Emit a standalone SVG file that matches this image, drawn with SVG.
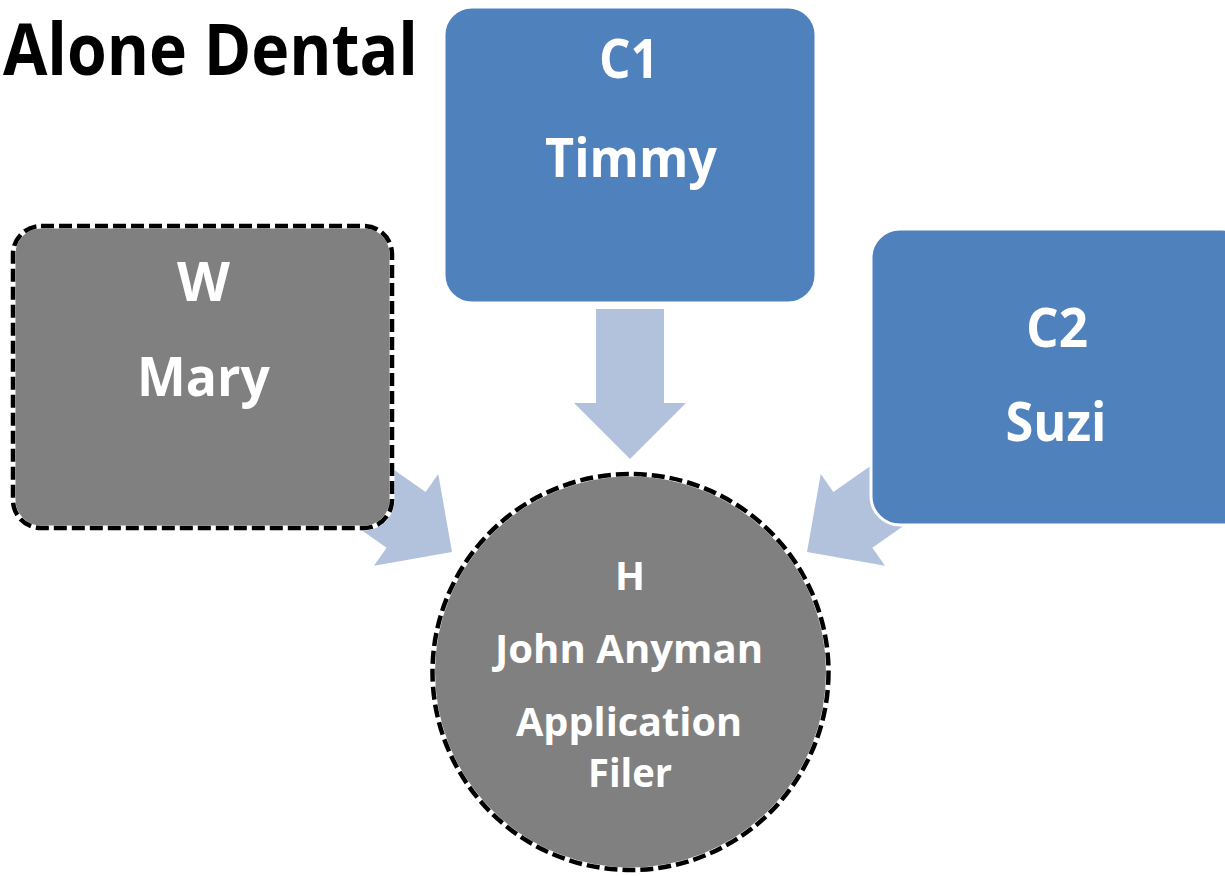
<svg xmlns="http://www.w3.org/2000/svg" width="1225" height="876" viewBox="0 0 1225 876">
  <style>
    .lbl { font-family: "Open Sans", "Liberation Sans", sans-serif; font-weight: bold; fill: #FFFFFF; text-anchor: middle; }
    .big { font-size: 54px; }
    .small { font-size: 40px; }
    .title { font-family: "Open Sans", "Liberation Sans", sans-serif; font-weight: bold; font-size: 72px; fill: #000000; }
    .blue { fill: #4F81BD; stroke: #FFFFFF; stroke-width: 3; }
    .gray { fill: #808080; stroke: #FFFFFF; stroke-width: 5; }
    .dash { fill: none; stroke: #000000; stroke-width: 4.5; stroke-dasharray: 13 5; }
    .arrow { fill: #B2C2DC; }
  </style>
  <defs>
    <!-- block arrow, tip at origin, pointing down -->
    <polygon id="blockArrow" points="-34,-150 34,-150 34,-56 56,-56 0,0 -56,-56 -34,-56"/>
  </defs>
  <rect width="1225" height="876" fill="#FFFFFF"/>

  <text class="title" x="3" y="75" textLength="415" lengthAdjust="spacingAndGlyphs">Alone Dental</text>

  <g id="connectors">
    <use href="#blockArrow" class="arrow" transform="translate(630,459)"/>
    <use href="#blockArrow" class="arrow" transform="translate(452,552) rotate(-55)"/>
    <use href="#blockArrow" class="arrow" transform="translate(807,552) rotate(55)"/>
  </g>

  <g id="node-c1">
    <rect class="blue" x="444" y="7" width="372" height="296" rx="28"/>
    <text class="lbl big" x="629" y="78" textLength="60" lengthAdjust="spacingAndGlyphs">C1</text>
    <text class="lbl big" x="631" y="177" textLength="172" lengthAdjust="spacingAndGlyphs">Timmy</text>
  </g>

  <g id="node-w">
    <rect class="gray" x="13" y="226" width="379" height="302" rx="28"/>
    <rect class="dash" x="13" y="226" width="379" height="302" rx="28"/>
    <text class="lbl big" x="203.5" y="301" textLength="53" lengthAdjust="spacingAndGlyphs">W</text>
    <text class="lbl big" x="203.5" y="396" textLength="133" lengthAdjust="spacingAndGlyphs">Mary</text>
  </g>

  <g id="node-c2">
    <rect class="blue" x="871" y="229" width="380" height="296" rx="29"/>
    <text class="lbl big" x="1057" y="347" textLength="62" lengthAdjust="spacingAndGlyphs">C2</text>
    <text class="lbl big" x="1056" y="441" textLength="101" lengthAdjust="spacingAndGlyphs">Suzi</text>
  </g>

  <g id="node-h">
    <circle class="gray" cx="630.5" cy="672" r="198"/>
    <circle class="dash" cx="630.5" cy="672" r="198"/>
    <text class="lbl small" x="630" y="590" textLength="30" lengthAdjust="spacingAndGlyphs">H</text>
    <text class="lbl small" x="629" y="663" textLength="268" lengthAdjust="spacingAndGlyphs">John Anyman</text>
    <text class="lbl small" x="629" y="736" textLength="226" lengthAdjust="spacingAndGlyphs">Application</text>
    <text class="lbl small" x="630" y="787" textLength="84" lengthAdjust="spacingAndGlyphs">Filer</text>
  </g>
</svg>
